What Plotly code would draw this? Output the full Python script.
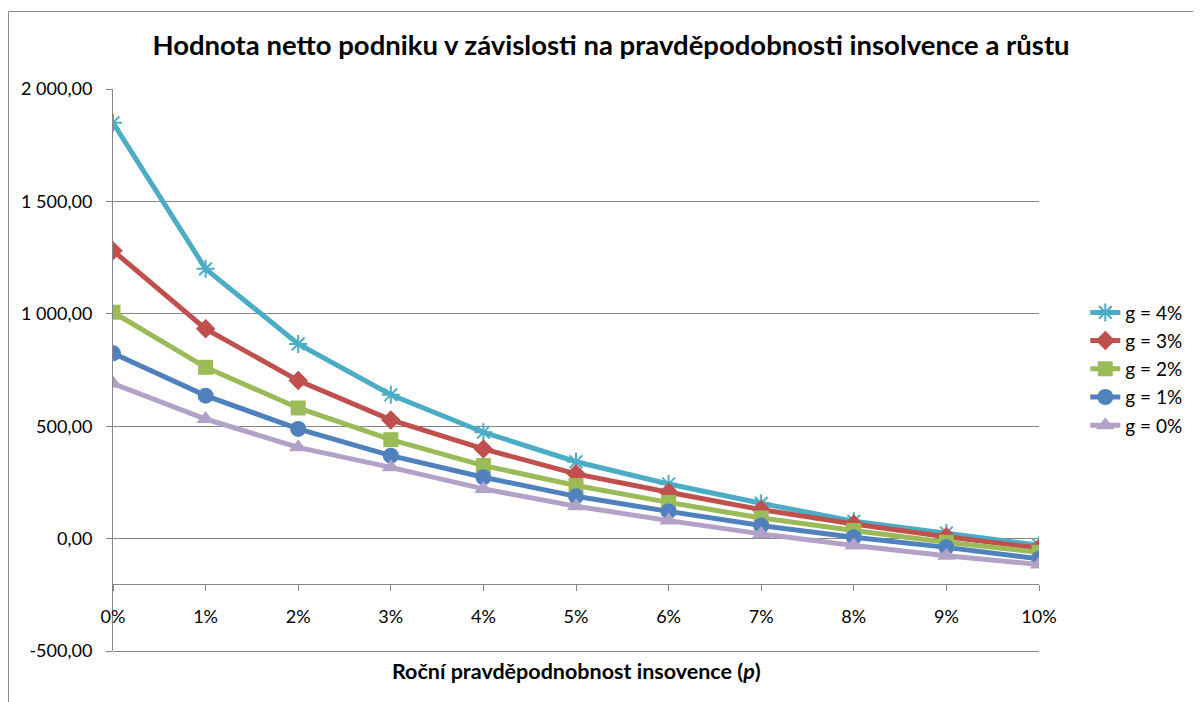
import plotly.graph_objects as go

categories = ["0%", "1%", "2%", "3%", "4%", "5%", "6%", "7%", "8%", "9%", "10%"]

g4 = [1850, 1200, 866, 640, 473, 342, 243, 157, 77, 25, -30]
g3 = [1281, 933, 703, 528, 399, 288, 206, 129, 65, 8, -42]
g2 = [1007, 762, 581, 440, 325, 236, 161, 92, 36, -16, -61]
g1 = [824, 636, 488, 369, 273, 188, 121, 58, 6, -39, -90]
g0 = [690, 532, 406, 317, 221, 144, 80, 21, -31, -76, -115]

series_names = ["g = 4%", "g = 3%", "g = 2%", "g = 1%", "g = 0%"]
y_tickvals = [-500, 0, 500, 1000, 1500, 2000]
y_ticktext = ["-500,00", "0,00", "500,00", "1 000,00", "1 500,00", "2 000,00"]

colors = ["#4BACC6", "#C0504D", "#9BBB59", "#4F81BD", "#B3A2C7"]
symbols = ["asterisk-open", "diamond", "square", "circle", "triangle-up"]
sizes = [15, 15, 15, 16, 16]

FONT = "Lato"
GRID = "#868686"

fig = go.Figure()
xs = list(range(len(categories)))
for name, vals, c, s, sz in zip(series_names, [g4, g3, g2, g1, g0], colors, symbols, sizes):
    marker = dict(symbol=s, size=sz, color=c)
    if s == "asterisk-open":
        marker["line"] = dict(color=c, width=2)
    fig.add_trace(go.Scatter(
        x=xs, y=vals, name=name, mode="lines+markers",
        line=dict(color=c, width=5),
        marker=marker, legendgroup=name,
    ))

fig.update_layout(
    width=1201, height=702,
    margin=dict(l=105, r=170, t=81, b=59),
    paper_bgcolor="white", plot_bgcolor="white",
    font=dict(family=FONT, size=18, color="black"),
    title=dict(
        text="<b>Hodnota netto podniku v závislosti na pravděpodobnosti insolvence a růstu</b>",
        x=(611 - 8) / 1201, xanchor="center", y=1 - 37 / 702, yanchor="middle",
        font=dict(family=FONT, size=27.5, color="black"),
    ),
    showlegend=True,
    legend=dict(
        x=1.05, xanchor="left", y=0.636, yanchor="top",
        font=dict(family=FONT, size=19),
        bgcolor="rgba(0,0,0,0)", traceorder="grouped", tracegroupgap=0.5,
    ),
    xaxis=dict(
        range=[0, 10], tickvals=xs, ticktext=categories,
        showgrid=False, zeroline=False,
        showline=True, linecolor=GRID, linewidth=1,
        ticks="outside", ticklen=6, tickcolor=GRID,
        anchor="free", position=300 / 2500,
        ticklabelstandoff=11,
    ),
    yaxis=dict(
        range=[-500, 2000], tickvals=y_tickvals, ticktext=y_ticktext,
        showgrid=True, gridcolor=GRID, gridwidth=1, zeroline=False,
        showline=True, linecolor=GRID, linewidth=1,
        ticks="outside", ticklen=6, tickcolor=GRID,
        ticklabelstandoff=10,
    ),
    annotations=[dict(
        text="<b>Roční pravděpodnobnost insovence (<i>p</i>)</b>",
        xref="paper", yref="paper", x=0.5, y=-20 / 562,
        xanchor="center", yanchor="middle", showarrow=False,
        font=dict(family=FONT, size=21.5, color="black"),
    )],
    shapes=[
        dict(
            type="line", xref="paper", yref="paper",
            x0=0, x1=1, y0=-0.5 / 562, y1=-0.5 / 562,
            line=dict(color=GRID, width=1), layer="above",
        ),
        dict(
            type="rect", xref="paper", yref="paper",
            x0=(0.5 - 105) / 926, x1=1.4, y0=-0.3, y1=1 + (81 - 3.5) / 562,
            line=dict(color="#8c8c8c", width=1), fillcolor="rgba(0,0,0,0)", layer="above",
        ),
    ],
)

fig.write_html("out.html")
